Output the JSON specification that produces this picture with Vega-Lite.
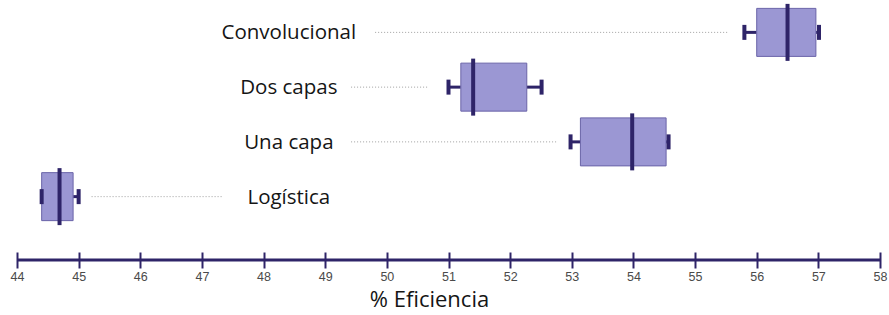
{
  "$schema": "https://vega.github.io/schema/vega-lite/v6.json",
  "autosize": "none",
  "width": 863,
  "height": 260,
  "padding": {"left": 17, "top": 0, "right": 9, "bottom": 55},
  "background": "white",
  "config": {"view": {"stroke": null}},
  "resolve": {"scale": {"y": "independent"}},
  "layer": [
    {
      "data": {
        "values": [
          {"modelo": "Convolucional", "min": 55.80, "q1": 56.00, "mediana": 56.50, "q3": 56.96, "max": 57.01, "guia_inicio": 49.81, "guia_fin": 55.53, "etiqueta_x": 48.41},
          {"modelo": "Dos capas", "min": 51.00, "q1": 51.20, "mediana": 51.40, "q3": 52.27, "max": 52.51, "guia_inicio": 49.42, "guia_fin": 50.68, "etiqueta_x": 48.41},
          {"modelo": "Una capa", "min": 52.98, "q1": 53.14, "mediana": 53.98, "q3": 54.53, "max": 54.57, "guia_inicio": 49.42, "guia_fin": 52.75, "etiqueta_x": 48.41},
          {"modelo": "Logística", "min": 44.40, "q1": 44.40, "mediana": 44.69, "q3": 44.91, "max": 45.00, "guia_inicio": 45.21, "guia_fin": 47.35, "etiqueta_x": 48.41}
        ]
      },
      "encoding": {
        "y": {
          "field": "modelo",
          "type": "nominal",
          "sort": ["Convolucional", "Dos capas", "Una capa", "Logística"],
          "scale": {"range": [5, 224], "paddingInner": 0, "paddingOuter": 0},
          "axis": null
        }
      },
      "layer": [
        {
          "mark": {"type": "rule", "color": "#a0a0a0", "strokeWidth": 1, "strokeDash": [1, 2]},
          "encoding": {
            "x": {"field": "guia_inicio", "type": "quantitative", "scale": {"domain": [44, 58], "nice": false, "zero": false},
              "axis": {
                "values": [44, 44.5, 45, 45.5, 46, 46.5, 47, 47.5, 48, 48.5, 49, 49.5, 50, 50.5, 51, 51.5, 52, 52.5, 53, 53.5, 54, 54.5, 55, 55.5, 56, 56.5, 57, 57.5, 58],
                "labelExpr": "datum.value % 1 === 0 ? format(datum.value, 'd') : ''",
                "domain": false,
                "grid": false,
                "offset": -8,
                "tickSize": 16,
                "tickWidth": 2,
                "tickColor": "#2e2468",
                "labelFont": "Liberation Sans",
                "labelFontSize": 12.5,
                "labelColor": "#4a4a4a",
                "labelPadding": 2,
                "labelFlush": false,
                "labelOverlap": false,
                "title": "% Eficiencia",
                "titleFont": "Open Sans",
                "titleFontSize": 22,
                "titleFontWeight": "normal",
                "titleColor": "#151515",
                "titlePadding": 7,
                "titleX": 412
              }
            },
            "x2": {"field": "guia_fin"}
          }
        },
        {
          "mark": {"type": "text", "font": "Open Sans", "fontSize": 20.5, "color": "#151515", "align": "center", "baseline": "middle", "dy": 1},
          "encoding": {
            "x": {"field": "etiqueta_x", "type": "quantitative"},
            "text": {"field": "modelo"}
          }
        },
        {
          "mark": {"type": "rule", "color": "#2e2468", "strokeWidth": 3},
          "encoding": {
            "x": {"field": "min", "type": "quantitative"},
            "x2": {"field": "q1"}
          }
        },
        {
          "mark": {"type": "rule", "color": "#2e2468", "strokeWidth": 3},
          "encoding": {
            "x": {"field": "q3", "type": "quantitative"},
            "x2": {"field": "max"}
          }
        },
        {
          "mark": {"type": "bar", "size": 48, "color": "#9b97d3", "stroke": "#6a64a8", "strokeWidth": 1},
          "encoding": {
            "x": {"field": "q1", "type": "quantitative"},
            "x2": {"field": "q3"}
          }
        },
        {
          "mark": {"type": "tick", "orient": "vertical", "size": 15, "thickness": 4, "color": "#2e2468", "opacity": 1},
          "encoding": {
            "x": {"field": "min", "type": "quantitative"}
          }
        },
        {
          "mark": {"type": "tick", "orient": "vertical", "size": 15, "thickness": 4, "color": "#2e2468", "opacity": 1},
          "encoding": {
            "x": {"field": "max", "type": "quantitative"}
          }
        },
        {
          "mark": {"type": "tick", "orient": "vertical", "size": 57, "thickness": 4, "color": "#2e2468", "opacity": 1},
          "encoding": {
            "x": {"field": "mediana", "type": "quantitative"}
          }
        }
      ]
    },
    {
      "data": {"values": [{"desde": 44, "hasta": 58}]},
      "mark": {"type": "rule", "color": "#2e2468", "strokeWidth": 3},
      "encoding": {
        "x": {"field": "desde", "type": "quantitative"},
        "x2": {"field": "hasta"},
        "y": {"datum": 0, "type": "quantitative", "scale": {"domain": [0, 1]}, "axis": null}
      }
    }
  ]
}
